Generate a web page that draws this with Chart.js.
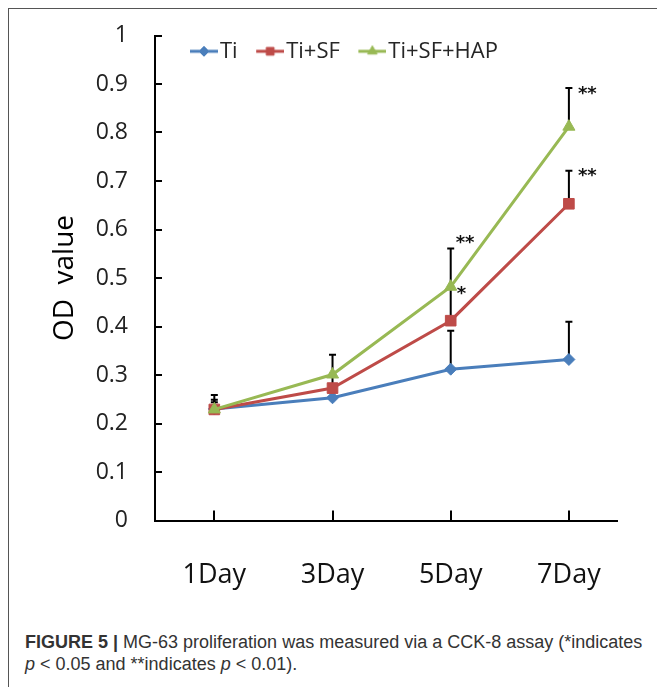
<!DOCTYPE html>
<html><head><meta charset="utf-8">
<script src="https://cdn.jsdelivr.net/npm/chart.js@4.4.1/dist/chart.umd.min.js"></script>
<style>
html,body{margin:0;padding:0;background:#fff;width:657px;height:687px;overflow:hidden;}
#frame{position:absolute;left:8px;top:8px;width:700px;height:700px;border-left:1.5px solid #555;border-top:1.5px solid #555;}
#wrap{position:absolute;left:0;top:0;width:657px;height:610px;}
#cap{position:absolute;left:25px;top:631px;font-family:"Liberation Sans",Arial,sans-serif;font-size:18px;line-height:22px;color:#333;white-space:nowrap;}
</style></head>
<body>
<div id="frame"></div>
<div id="wrap"><canvas id="c" width="657" height="610"></canvas></div>
<div id="cap"><b>FIGURE 5 |</b> MG-63 proliferation was measured via a CCK-8 assay (*indicates<br><i>p</i> &lt; 0.05 and **indicates <i>p</i> &lt; 0.01).</div>
<script>
// ---- data ----
const days = ['1Day', '3Day', '5Day', '7Day'];
const yTickLabels = ['0', '0.1', '0.2', '0.3', '0.4', '0.5', '0.6', '0.7', '0.8', '0.9', '1'];
const seriesNames = ['Ti', 'Ti+SF', 'Ti+SF+HAP'];
const tiValues  = [0.230, 0.253, 0.312, 0.332];
const sfValues  = [0.229, 0.273, 0.412, 0.653];
const hapValues = [0.229, 0.301, 0.482, 0.812];
const tiErr  = [0.029, 0.017, 0.079, 0.078];
const sfErr  = [0.015, 0.028, 0.070, 0.068];
const hapErr = [0.020, 0.041, 0.079, 0.080];
// significance marks: series index, day index, text, anchored at error-bar top or at point
const sigSeries = [2, 1, 2, 2];
const sigDays   = [3, 3, 2, 2];
const sigTexts  = ['**', '**', '**', '*'];
const sigAtTop  = [true, true, true, false];

// ---- styles ----
const seriesValues = [tiValues, sfValues, hapValues];
const seriesErr = [tiErr, sfErr, hapErr];
const colors = ['#4A7EBB', '#BE4B48', '#98B954'];
const pointStyles = ['rectRot', 'rect', 'triangle'];
const pointRadii = [6, 7.5, 7];
const legendRadii = [5, 5.5, 5.5];
const sigOffsets = [[9, 1], [9, 0], [5, -10], [6, 2]];
const PLOT_TOP = 35.5;

Chart.defaults.font.family = '"Open Sans", sans-serif';

function makeIcon(color, style, r) {
  const c = document.createElement('canvas');
  c.width = 46; c.height = 16;
  const g = c.getContext('2d');
  g.strokeStyle = color; g.lineWidth = 3;
  g.beginPath(); g.moveTo(18, 8); g.lineTo(46, 8); g.stroke();
  g.fillStyle = color; g.strokeStyle = color; g.lineWidth = 1;
  if (Chart.helpers && Chart.helpers.drawPoint) {
    Chart.helpers.drawPoint(g, {pointStyle: style, radius: r, rotation: 0, borderWidth: 1}, 32, 8);
  }
  return c;
}
const icons = colors.map((c, i) => makeIcon(c, pointStyles[i], legendRadii[i]));

const errorBars = {
  id: 'errorBars',
  beforeDatasetsDraw(chart) {
    const {ctx, scales: {x, y}} = chart;
    ctx.save();
    ctx.strokeStyle = '#000';
    ctx.lineWidth = 2;
    seriesValues.forEach((vals, s) => vals.forEach((v, i) => {
      const px = x.getPixelForValue(i);
      const p0 = y.getPixelForValue(v);
      const p1 = y.getPixelForValue(v + seriesErr[s][i]);
      ctx.beginPath();
      ctx.moveTo(px, p0); ctx.lineTo(px, p1);
      ctx.moveTo(px - 3.5, p1); ctx.lineTo(px + 3.5, p1);
      ctx.stroke();
    }));
    ctx.restore();
  },
  afterDatasetsDraw(chart) {
    const {ctx, scales: {x, y}} = chart;
    ctx.save();
    ctx.fillStyle = '#111';
    ctx.font = 'bold 18px "DejaVu Sans"';
    ctx.textAlign = 'left';
    ctx.textBaseline = 'alphabetic';
    sigTexts.forEach((t, k) => {
      const s = sigSeries[k], d = sigDays[k];
      const v = seriesValues[s][d] + (sigAtTop[k] ? seriesErr[s][d] : 0);
      const px = x.getPixelForValue(d) + sigOffsets[k][0];
      const py = y.getPixelForValue(v) + sigOffsets[k][1] + 10;
      ctx.fillText(t, px, py);
    });
    ctx.restore();
  }
};

const legendPlacer = {
  id: 'legendPlacer',
  afterLayout(chart) {
    const lg = chart.legend;
    if (!lg) return;
    const h = lg.height;
    lg.left = 171.5; lg.right = 657; lg.width = lg.right - lg.left;
    lg.top = 30.8; lg.bottom = lg.top + h; lg.height = h;
    if (lg.adjustHitBoxes) lg.adjustHitBoxes();
  }
};

const chart = new Chart(document.getElementById('c'), {
  type: 'line',
  data: {
    datasets: seriesNames.map((name, s) => ({
      label: name,
      data: seriesValues[s].map((v, i) => ({x: i, y: v})),
      borderColor: colors[s],
      backgroundColor: colors[s],
      borderWidth: 3,
      pointStyle: pointStyles[s],
      pointRadius: pointRadii[s],
      pointBorderWidth: 1,
      pointHoverRadius: pointRadii[s],
      tension: 0,
      fill: false,
      order: 3 - s
    }))
  },
  options: {
    responsive: false,
    animation: false,
    devicePixelRatio: 1,
    layout: {padding: {top: -6, left: 0, right: 40, bottom: 0}},
    plugins: {
      tooltip: {enabled: false},
      legend: {
        position: 'top',
        align: 'start',
        labels: {
          usePointStyle: true,
          pointStyleWidth: 28,
          padding: 9.5,
          color: '#262626',
          font: {family: '"Open Sans"', size: 22},
          generateLabels: (ch) => Chart.defaults.plugins.legend.labels.generateLabels(ch)
            .sort((a, b) => a.datasetIndex - b.datasetIndex)
            .map(it => Object.assign(it, {pointStyle: icons[it.datasetIndex]}))
        }
      }
    },
    scales: {
      x: {
        type: 'linear',
        min: -0.502,
        max: 3.407,
        afterBuildTicks: (s) => { s.ticks = days.map((d, i) => ({value: i})); },
        afterFit: (s) => { s.height = 89.5; s.paddingLeft = 0; s.paddingRight = 0; },
        ticks: {
          callback: (v) => days[v],
          autoSkip: false,
          maxRotation: 0,
          padding: 49,
          color: '#111',
          font: {family: '"Open Sans"', size: 27}
        },
        grid: {drawOnChartArea: false, drawTicks: true, tickLength: -10, color: '#000', lineWidth: 2},
        border: {display: true, color: '#000', width: 2}
      },
      y: {
        min: 0,
        max: 1,
        afterFit: (s) => { s.width = 155; s.paddingTop = 0; s.paddingBottom = 0; },
        ticks: {
          stepSize: 0.1,
          callback: (v, i) => yTickLabels[i],
          padding: 34,
          color: '#222',
          font: {family: '"Open Sans"', size: 23}
        },
        grid: {drawOnChartArea: false, drawTicks: true, tickLength: -7, color: '#000', lineWidth: 2},
        border: {display: true, color: '#000', width: 2},
        title: {
          display: true,
          text: 'OD  value',
          color: '#000',
          font: {family: '"Open Sans"', size: 28},
          padding: {top: 48, bottom: 0}
        }
      }
    }
  },
  plugins: [errorBars, legendPlacer]
});
for (let k = 0; k < 3; k++) {
  const shift = PLOT_TOP - chart.chartArea.top;
  if (Math.abs(shift) < 0.05) break;
  chart.config.options.layout.padding.top += shift;
  chart.update();
}
</script>
</body></html>
